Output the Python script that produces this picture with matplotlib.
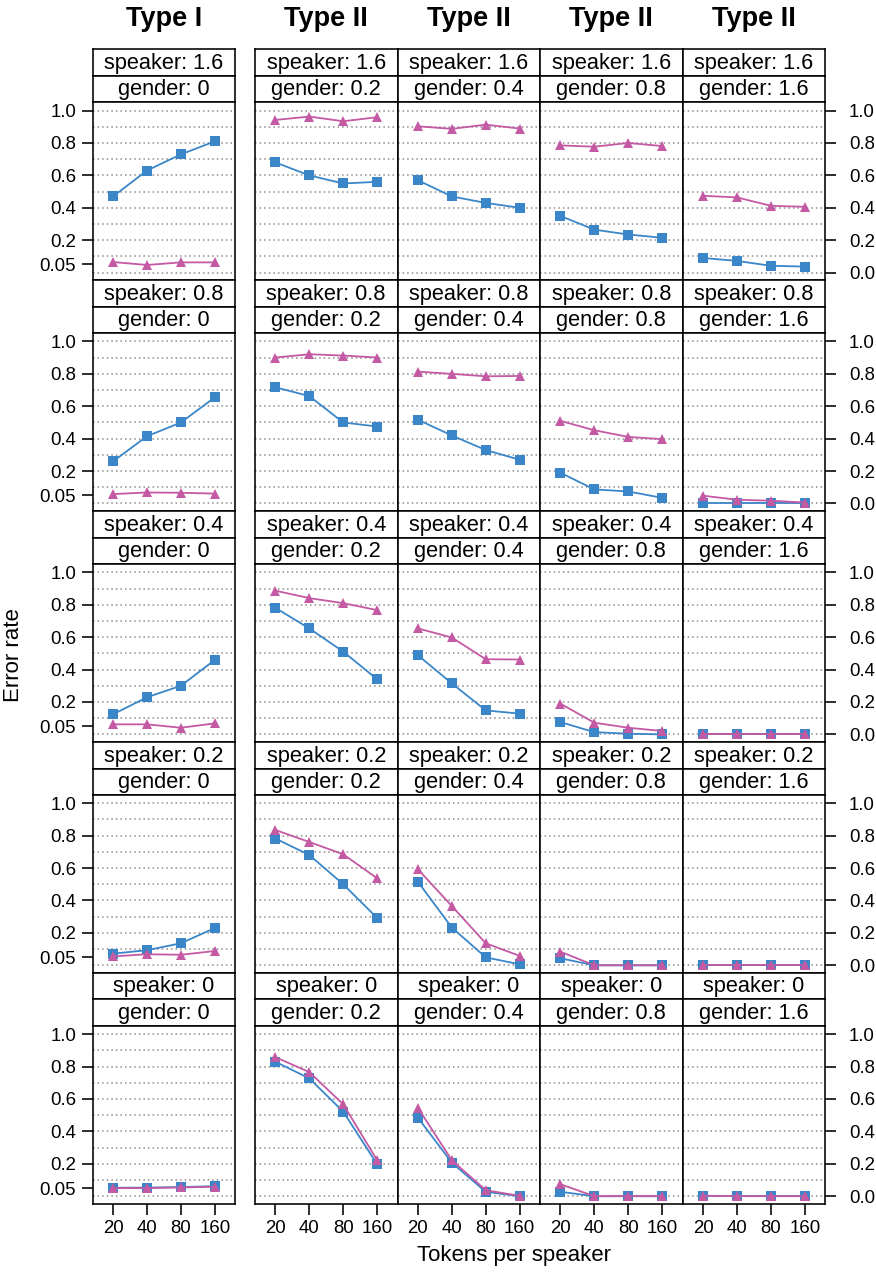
import matplotlib
matplotlib.use('Agg')
import matplotlib.pyplot as plt
import numpy as np

plt.rcParams['font.family'] = ['Liberation Sans', 'DejaVu Sans']

# ---------------- data ----------------
tokens = [20, 40, 80, 160]
speaker_levels = ['1.6', '0.8', '0.4', '0.2', '0']
gender_levels = ['0', '0.2', '0.4', '0.8', '1.6']
column_types = ['Type I', 'Type II', 'Type II', 'Type II', 'Type II']

# blue squares, one list of columns (gender 0, 0.2, 0.4, 0.8, 1.6) per speaker level
square_sp16 = [[0.47, 0.63, 0.73, 0.81], [0.68, 0.60, 0.55, 0.56], [0.57, 0.47, 0.43, 0.40],
               [0.35, 0.265, 0.235, 0.215], [0.09, 0.072, 0.042, 0.037]]
square_sp08 = [[0.26, 0.415, 0.50, 0.655], [0.717, 0.663, 0.50, 0.475], [0.517, 0.42, 0.33, 0.27],
               [0.19, 0.087, 0.074, 0.035], [0.0, 0.0, 0.0, 0.0]]
square_sp04 = [[0.124, 0.229, 0.30, 0.46], [0.781, 0.654, 0.511, 0.34], [0.489, 0.315, 0.148, 0.128],
               [0.076, 0.014, 0.004, 0.0], [0.0, 0.0, 0.0, 0.0]]
square_sp02 = [[0.072, 0.093, 0.136, 0.23], [0.782, 0.681, 0.50, 0.292], [0.516, 0.233, 0.049, 0.006],
               [0.043, 0.0, 0.0, 0.0], [0.0, 0.0, 0.0, 0.0]]
square_sp00 = [[0.052, 0.053, 0.056, 0.062], [0.83, 0.727, 0.522, 0.197], [0.485, 0.207, 0.027, 0.0],
               [0.027, 0.0, 0.0, 0.0], [0.0, 0.0, 0.0, 0.0]]

# pink triangles
triangle_sp16 = [[0.065, 0.047, 0.063, 0.063], [0.942, 0.963, 0.934, 0.959], [0.903, 0.887, 0.913, 0.889],
                 [0.785, 0.777, 0.80, 0.781], [0.474, 0.464, 0.412, 0.406]]
triangle_sp08 = [[0.058, 0.068, 0.066, 0.061], [0.901, 0.921, 0.913, 0.901], [0.814, 0.80, 0.785, 0.787],
                 [0.51, 0.452, 0.411, 0.397], [0.048, 0.023, 0.017, 0.006]]
triangle_sp04 = [[0.062, 0.062, 0.041, 0.068], [0.887, 0.841, 0.81, 0.767], [0.654, 0.598, 0.464, 0.462],
                 [0.19, 0.072, 0.041, 0.021], [0.0, 0.0, 0.0, 0.0]]
triangle_sp02 = [[0.055, 0.068, 0.065, 0.088], [0.835, 0.761, 0.685, 0.537], [0.593, 0.366, 0.136, 0.058],
                 [0.084, 0.0, 0.0, 0.0], [0.0, 0.0, 0.0, 0.0]]
triangle_sp00 = [[0.05, 0.05, 0.054, 0.058], [0.858, 0.766, 0.567, 0.222], [0.546, 0.222, 0.037, 0.002],
                 [0.074, 0.0, 0.0, 0.0], [0.003, 0.0, 0.0, 0.0]]

square_rows = [square_sp16, square_sp08, square_sp04, square_sp02, square_sp00]
triangle_rows = [triangle_sp16, triangle_sp08, triangle_sp04, triangle_sp02, triangle_sp00]

left_ticks = [0.05, 0.2, 0.4, 0.6, 0.8, 1.0]
left_labels = ['0.05', '0.2', '0.4', '0.6', '0.8', '1.0']
right_ticks = [0.0, 0.2, 0.4, 0.6, 0.8, 1.0]
right_labels = ['0.0', '0.2', '0.4', '0.6', '0.8', '1.0']

# ---------------- layout ----------------
W, H = 876, 1275
fig = plt.figure(figsize=(W / 100, H / 100), dpi=100)

col_left = [92.7, 255.0, 397.5, 540.0, 682.7]
col_w = 142.5
row_top0 = 49.3
row_h = 230.9
strip_h = 26.5

BLUE = '#3a86c8'
PINK = '#c459a4'
TICK_FS = 13.4
STRIP_FS = 15.7
LW_FRAME = 1.15


def rect(left, top, w, h):
    return [left / W, 1 - (top + h) / H, w / W, h / H]


def strip(left, top, text):
    sax = fig.add_axes(rect(left, top, col_w, strip_h))
    sax.set_facecolor('white')
    sax.set_xticks([])
    sax.set_yticks([])
    for s in sax.spines.values():
        s.set_linewidth(LW_FRAME)
    sax.text(0.5, 0.47, text, ha='center', va='center', fontsize=STRIP_FS,
             transform=sax.transAxes)


xmin = tokens[0] / 2 ** 0.6
xmax = tokens[-1] * 2 ** 0.6

for r in range(5):
    top = row_top0 + r * row_h
    for c in range(5):
        left = col_left[c]
        strip(left, top, 'speaker: ' + speaker_levels[r])
        strip(left, top + strip_h, 'gender: ' + gender_levels[c])
        ax = fig.add_axes(rect(left, top + 2 * strip_h, col_w, row_h - 2 * strip_h))
        ax.set_xscale('log', base=2)
        ax.set_xlim(xmin, xmax)
        ax.set_ylim(-0.047, 1.051)
        for gv in np.arange(0, 1.0001, 0.1):
            ax.axhline(gv, color='#8c8c8c', lw=1.1, linestyle=(0, (1, 2)), zorder=1)
        ax.plot(tokens, square_rows[r][c], color=BLUE, lw=1.3, marker='s',
                markersize=6.6, markeredgewidth=0, zorder=3, clip_on=False)
        ax.plot(tokens, triangle_rows[r][c], color=PINK, lw=1.3, marker='^',
                markersize=7.8, markeredgewidth=0, zorder=4, clip_on=False)
        for s in ax.spines.values():
            s.set_linewidth(LW_FRAME)
        ax.minorticks_off()
        ax.tick_params(which='both', direction='out', length=8, width=1.15,
                       labelsize=TICK_FS, pad=4, color='black')
        if r == 4:
            ax.set_xticks(tokens)
            ax.set_xticklabels([str(t) for t in tokens])
        else:
            ax.set_xticks([])
        ax.xaxis.set_minor_locator(matplotlib.ticker.NullLocator())
        if c == 0:
            ax.set_yticks(left_ticks)
            ax.set_yticklabels(left_labels)
        elif c == 4:
            ax.yaxis.tick_right()
            ax.set_yticks(right_ticks)
            ax.set_yticklabels(right_labels)
            ax.tick_params(axis='y', pad=9)
        else:
            ax.set_yticks([])

# column titles
for c in range(5):
    fig.text((col_left[c] + col_w / 2) / W, 1 - 19 / H, column_types[c],
             ha='center', va='center', fontsize=19.5, fontweight='bold')

fig.text(14 / W, 1 - 655 / H, 'Error rate', rotation=90, ha='center', va='center',
         fontsize=16)
fig.text(514 / W, 1 - 1256 / H, 'Tokens per speaker', ha='center', va='center',
         fontsize=16)

fig.savefig('out.png', dpi=100, facecolor='white')
